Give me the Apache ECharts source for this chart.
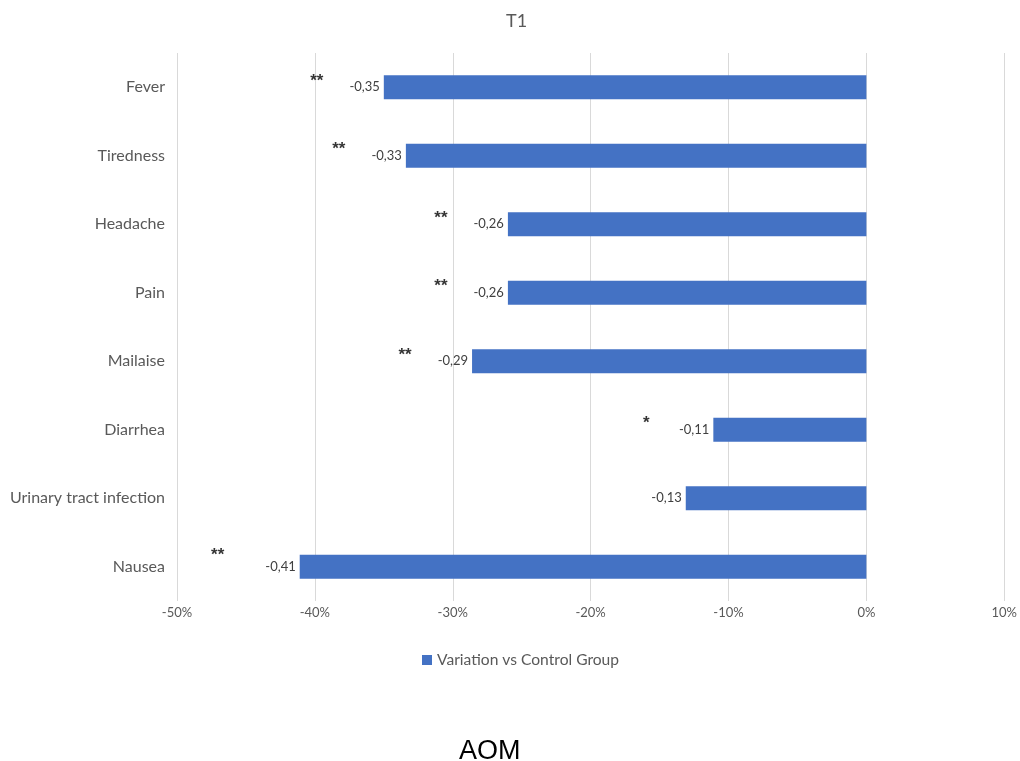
<!DOCTYPE html>
<html>
<head>
<meta charset="utf-8">
<script src="https://cdn.jsdelivr.net/npm/echarts@6/dist/echarts.min.js"></script>
<style>
  html, body { margin: 0; padding: 0; background: #ffffff; }
  #chart { width: 1020px; height: 761px; }
</style>
</head>
<body>
<div id="chart"></div>
<script>
// Symptoms, top to bottom
const categories = ['Fever', 'Tiredness', 'Headache', 'Pain', 'Mailaise', 'Diarrhea', 'Urinary tract infection', 'Nausea'];
// Variation vs control group (fraction)
const variation = [-0.35, -0.334, -0.26, -0.26, -0.286, -0.111, -0.131, -0.411];
// Significance markers per symptom
const significance = ['**', '**', '**', '**', '**', '*', '', '**'];
// Axis range and step
const axisMin = -0.5, axisMax = 0.1, axisStep = 0.1;
const seriesName = 'Variation vs Control Group';

const grey = '#595959';
const font = 'Lato, "Open Sans", sans-serif';

const chart = echarts.init(document.getElementById('chart'), null, { renderer: 'canvas' });

chart.setOption({
  animation: false,
  backgroundColor: '#ffffff',
  title: [{
    text: 'T1',
    left: 501,
    top: 7,
    textStyle: { color: grey, fontSize: 18, fontWeight: 'normal', fontFamily: font }
  }, {
    text: 'AOM',
    left: 454,
    top: 733,
    textStyle: { color: '#000000', fontSize: 27, fontWeight: 'normal', fontFamily: '"Liberation Sans", Arial, sans-serif' }
  }],
  legend: {
    data: [seriesName],
    left: 417,
    top: 647,
    itemWidth: 10,
    itemHeight: 10,
    itemGap: 5,
    icon: 'rect',
    textStyle: { color: grey, fontSize: 15.6, fontFamily: font }
  },
  grid: { left: 177, right: 11, top: 53, bottom: 160, containLabel: false },
  xAxis: {
    type: 'value',
    min: axisMin,
    max: axisMax,
    interval: axisStep,
    axisLine: { show: false },
    axisTick: { show: false },
    splitLine: { show: true, lineStyle: { color: '#d9d9d9', width: 1 } },
    axisLabel: {
      color: grey, fontSize: 13, fontFamily: font, margin: 5,
      formatter: v => Math.round(v * 100) + '%'
    }
  },
  yAxis: {
    type: 'category',
    data: categories,
    inverse: true,
    axisLine: { show: false },
    axisTick: { show: false },
    axisLabel: { color: grey, fontSize: 16, fontFamily: font, margin: 12 }
  },
  series: [{
    name: seriesName,
    type: 'bar',
    data: variation,
    barWidth: 24,
    itemStyle: { color: '#4472c4' },
    label: {
      show: true,
      position: 'left',
      distance: 4,
      color: '#404040',
      fontSize: 13,
      fontFamily: font,
      formatter: p => p.value.toFixed(2).replace('.', ',')
    }
  }, {
    name: 'significance',
    type: 'scatter',
    symbolSize: 0,
    silent: true,
    data: variation.map((v, i) => ({
      value: [v, categories[i]],
      label: i === categories.length - 1 ? { offset: [-82, -11] } : undefined
    })),
    label: {
      show: true,
      position: 'inside',
      offset: [-67, -6],
      color: '#000000',
      fontSize: 17,
      fontWeight: 'bold',
      fontFamily: '"Liberation Sans", Arial, sans-serif',
      formatter: p => significance[p.dataIndex]
    }
  }]
});
</script>
</body>
</html>
